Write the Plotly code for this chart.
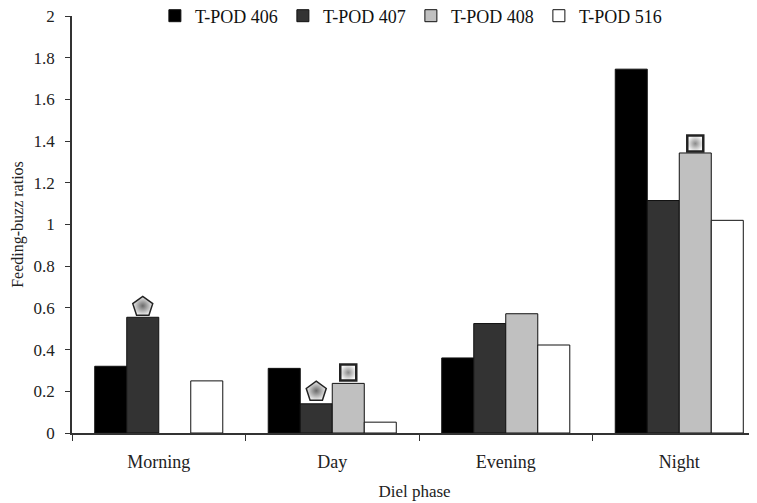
import plotly.graph_objects as go

phases = ["Morning", "Day", "Evening", "Night"]
series_names = ["T-POD 406", "T-POD 407", "T-POD 408", "T-POD 516"]
tpod406 = [0.32, 0.31, 0.36, 1.745]
tpod407 = [0.555, 0.14, 0.525, 1.115]
tpod408 = [None, 0.238, 0.572, 1.343]
tpod516 = [0.25, 0.052, 0.422, 1.02]
y_ticks = [0, 0.2, 0.4, 0.6, 0.8, 1, 1.2, 1.4, 1.6, 1.8, 2]
y_ticklabels = ["0", "0.2", "0.4", "0.6", "0.8", "1", "1.2", "1.4", "1.6", "1.8", "2"]
# significance markers: (series index, phase index, y)
pentagon_marks = [(1, 0, 0.605), (1, 1, 0.198)]
square_marks = [(2, 1, 0.29), (2, 3, 1.388)]

values = [tpod406, tpod407, tpod408, tpod516]
colors = ["#000000", "#333333", "#c0c0c0", "#ffffff"]

bar_w = 0.1845
n = len(series_names)
start = -bar_w * n / 2
xs = list(range(len(phases)))

fig = go.Figure()
for i, (name, vals, col) in enumerate(zip(series_names, values, colors)):
    fig.add_trace(go.Bar(
        x=xs, y=vals, name=name, width=bar_w, offset=start + i * bar_w,
        marker=dict(color=col, line=dict(color="#111111", width=1)),
    ))

def center(si, pi):
    return pi + start + (si + 0.5) * bar_w

fig.add_trace(go.Scatter(
    x=[center(s, p) for s, p, _ in pentagon_marks],
    y=[v for _, _, v in pentagon_marks],
    mode="markers", showlegend=False, hoverinfo="skip",
    marker=dict(symbol="pentagon", size=21, color="#eeeeee",
                gradient=dict(type="radial", color="#6a6a6a"),
                line=dict(color="#222222", width=1.5)),
))
fig.add_trace(go.Scatter(
    x=[center(s, p) for s, p, _ in square_marks],
    y=[v for _, _, v in square_marks],
    mode="markers", showlegend=False, hoverinfo="skip",
    marker=dict(symbol="square", size=16, color="#f8f8f8",
                gradient=dict(type="radial", color="#8a8a8a"),
                line=dict(color="#222222", width=2.5)),
))

serif = "Liberation Serif, Times New Roman, serif"
fig.update_layout(
    width=749, height=495,
    margin=dict(l=64, r=0, t=8, b=70, autoexpand=False),
    paper_bgcolor="white", plot_bgcolor="white",
    barmode="overlay",
    font=dict(family=serif, color="#222222"),
    showlegend=True,
    legend=dict(orientation="h", x=0.121, y=1.0, xanchor="left", yanchor="middle",
                entrywidth=83, entrywidthmode="pixels",
                font=dict(family=serif, size=18, color="#111111"),
                bgcolor="rgba(0,0,0,0)", traceorder="normal"),
)
fig.update_xaxes(
    range=[-0.5, 3.448], tickvals=xs, ticktext=phases,
    ticks="", showline=True, linecolor="#333333", linewidth=1.5,
    showgrid=False, zeroline=False,
    tickfont=dict(family=serif, size=18, color="#222222"),
    ticklabelstandoff=12,
    minor=dict(tick0=-0.5, dtick=1, ticks="outside", ticklen=6, tickcolor="#333333", showgrid=False),
    title=dict(text="Diel phase", font=dict(family=serif, size=17, color="#222222"), standoff=14),
)
fig.update_yaxes(
    range=[0, 2], tickvals=y_ticks, ticktext=y_ticklabels,
    ticks="outside", ticklen=5, tickcolor="#333333",
    showline=True, linecolor="#333333", linewidth=1.5,
    showgrid=False, zeroline=False,
    tickfont=dict(family=serif, size=17, color="#222222"),
    ticklabelstandoff=7, ticklabeloverflow="allow",
    title=dict(text="Feeding-buzz ratios", font=dict(family=serif, size=16, color="#222222"), standoff=6),
)
fig.write_html("out.html")
